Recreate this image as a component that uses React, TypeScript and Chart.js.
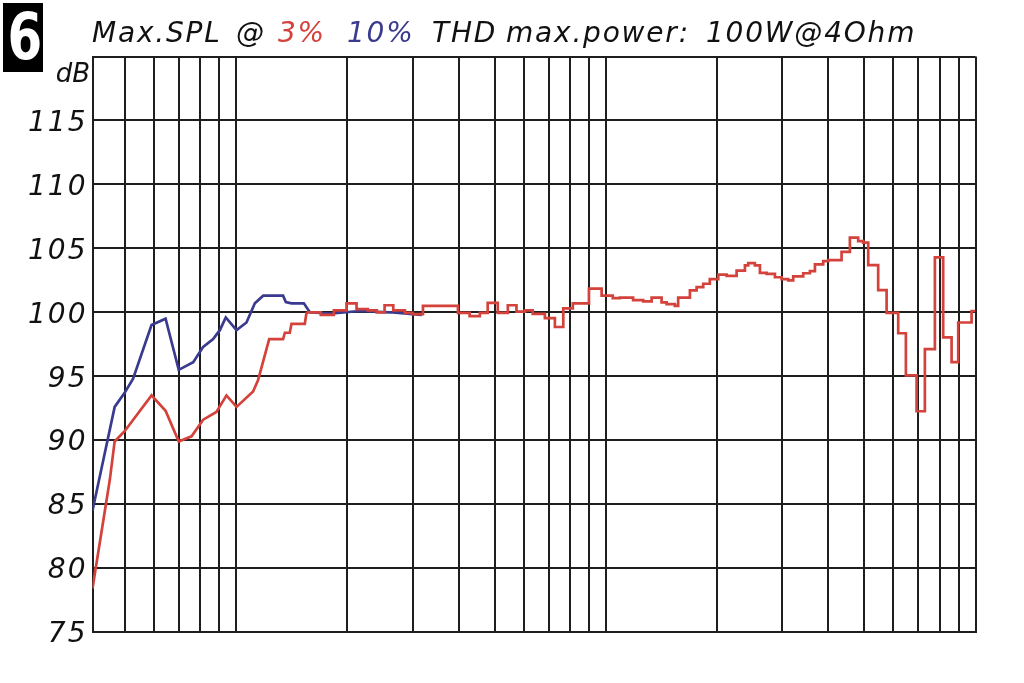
import React, { useEffect, useRef } from "react";
import { Chart, registerables } from "chart.js";

Chart.register(...registerables);

// ---- axis definition ----
const freqMin = 40.85;
const freqMax = 10000;
const splMin = 75;
const splMax = 120;
const splStep = 5;
const xGridFreqs = [
  50, 60, 70, 80, 90, 100, 200, 300, 400, 500, 600, 700, 800, 900, 1000,
  2000, 3000, 4000, 5000, 6000, 7000, 8000, 9000, 10000,
];

// ---- 10% THD (blue) ----
const blueFreq = [
  40.85, 46.9, 49.9, 52.6, 59.0, 64.4, 69.9, 76.5, 81.4, 86.6, 90.3, 93.7,
  100.2, 106.6, 112.3, 118.3, 133.9, 136.2, 141.1, 152.4, 158.2, 179, 216,
  260, 290, 318,
];
const blueSpl = [
  84.5, 92.6, 93.7, 94.8, 99.0, 99.5, 95.5, 96.1, 97.3, 97.9, 98.6, 99.6,
  98.6, 99.2, 100.7, 101.3, 101.3, 100.8, 100.7, 100.7, 100.0, 99.9, 100.1,
  100.0, 99.9, 99.8,
];

// ---- 3% THD (red), low-frequency part ----
const redLowFreq = [
  40.85, 45.5, 46.9, 49.9, 59.0, 64.4, 69.9, 75.7, 81.4, 88.4, 94.1, 100.2,
  111.1, 114.6, 122.8, 133.9, 135.4, 139.6, 141.1, 153.3, 155.0,
];
const redLowSpl = [
  78.4, 86.9, 89.9, 90.7, 93.5, 92.3, 89.9, 90.3, 91.6, 92.2, 93.5, 92.6,
  93.8, 94.7, 97.9, 97.9, 98.4, 98.4, 99.1, 99.1, 100.0,
];

// ---- 3% THD (red), stepped part (value holds from freq to next freq) ----
const redStepFreq = [
  155, 169.4, 183.7, 198.8, 211.6, 227, 240, 252, 266, 286, 300, 320, 398,
  428, 456, 479, 510, 543, 573, 604, 634, 684, 728, 767, 814, 900, 974, 1044,
  1091, 1185, 1262, 1330, 1415, 1460, 1537, 1569, 1688, 1760, 1834, 1911,
  2014, 2122, 2258, 2378, 2427, 2530, 2611, 2722, 2867, 2989, 3114, 3213,
  3419, 3565, 3678, 3872, 3995, 4342, 4573, 4815, 4968, 5126, 5454, 5748,
  6179, 6481, 6928, 7295, 7765, 8176, 8616, 8979, 9759, 10000,
];
const redStepSpl = [
  100.0, 99.8, 100.15, 100.7, 100.25, 100.15, 100.0, 100.55, 100.15, 99.95,
  99.85, 100.5, 99.95, 99.7, 99.95, 100.73, 99.95, 100.55, 100.05, 100.15,
  99.87, 99.55, 98.85, 100.3, 100.7, 101.85, 101.3, 101.1, 101.15, 100.95,
  100.85, 101.15, 100.77, 100.64, 100.5, 101.15, 101.72, 101.97, 102.23, 102.6,
  102.95, 102.85, 103.26, 103.67, 103.85, 103.67, 103.08, 103.0, 102.74, 102.6,
  102.5, 102.8, 103.05, 103.22, 103.74, 104.0, 104.08, 104.73, 105.84, 105.56,
  105.45, 103.69, 101.74, 99.96, 98.36, 95.06, 92.26, 97.12, 104.29, 98.03,
  96.1, 99.2, 100.1, 100.1,
];

const RED = "#d4423c";
const BLUE = "#3a3a8e";
const GRID = "#1e1e1e";
const TEXT = "#111111";
const FONT = "'DejaVu Sans', 'Liberation Sans', sans-serif";

const titlePieces = [
  { text: "Max.SPL", left: 92, color: TEXT },
  { text: "@", left: 236, color: TEXT },
  { text: "3%", left: 278, color: RED },
  { text: "10%", left: 347, color: BLUE },
  { text: "THD", left: 432, color: TEXT },
  { text: "max.power:", left: 506, color: TEXT },
  { text: "100W@4Ohm", left: 706, color: TEXT },
];

const toPoints = (xs: number[], ys: number[]) =>
  xs.map((x, i) => ({ x, y: ys[i] }));

export default function App() {
  const canvasRef = useRef<HTMLCanvasElement | null>(null);

  useEffect(() => {
    const canvas = canvasRef.current;
    if (!canvas) return;
    const spacingPlugin = {
      id: "letterSpacing",
      beforeDraw(chart: any) {
        chart.ctx.letterSpacing = "2px";
      },
      afterDraw(chart: any) {
        chart.ctx.letterSpacing = "0px";
      },
    };
    const chart = new Chart(canvas, {
      type: "line",
      data: {
        datasets: [
          {
            label: "3% THD",
            data: toPoints(redLowFreq, redLowSpl),
            borderColor: RED,
            backgroundColor: RED,
            borderWidth: 2.7,
            pointRadius: 0,
            tension: 0,
            order: 0,
          },
          {
            label: "3% THD (steps)",
            data: toPoints(redStepFreq, redStepSpl),
            borderColor: RED,
            backgroundColor: RED,
            borderWidth: 2.7,
            pointRadius: 0,
            stepped: true,
            order: 0,
          },
          {
            label: "10% THD",
            data: toPoints(blueFreq, blueSpl),
            borderColor: BLUE,
            backgroundColor: BLUE,
            borderWidth: 2.7,
            pointRadius: 0,
            tension: 0,
            order: 1,
          },
        ],
      },
      options: {
        responsive: false,
        animation: false,
        events: [],
        layout: { padding: { left: 0, top: 56.5, right: 48.5, bottom: 51 } },
        plugins: {
          legend: { display: false },
          title: { display: false },
          tooltip: { enabled: false },
        },
        scales: {
          x: {
            type: "logarithmic",
            min: freqMin,
            max: freqMax,
            afterBuildTicks: (s: any) => {
              s.ticks = xGridFreqs.map((v) => ({ value: v }));
            },
            afterFit: (s: any) => {
              s.height = 0;
            },
            ticks: { display: false },
            grid: { color: GRID, lineWidth: 2, drawTicks: false },
            border: { color: GRID, width: 2 },
          },
          y: {
            type: "linear",
            min: splMin,
            max: splMax,
            afterFit: (s: any) => {
              s.width = 92.5;
            },
            ticks: {
              stepSize: splStep,
              color: TEXT,
              padding: 5,
              labelOffset: 3,
              font: { family: FONT, size: 28, style: "italic" },
              callback: (v: any) => (Number(v) === splMax ? "" : String(v)),
            },
            grid: { color: GRID, lineWidth: 2, drawTicks: false },
            border: { color: GRID, width: 2 },
          },
        },
      },
      plugins: [spacingPlugin],
    } as any);
    return () => chart.destroy();
  }, []);

  return (
    <div
      style={{
        position: "fixed",
        left: 0,
        top: 0,
        width: 1024,
        height: 683,
        background: "#ffffff",
        overflow: "hidden",
      }}
    >
      <canvas
        ref={canvasRef}
        width={1024}
        height={683}
        style={{ position: "absolute", left: 0, top: 0, width: 1024, height: 683 }}
      />
      <div
        style={{
          position: "absolute",
          left: 3,
          top: 3,
          width: 40,
          height: 69,
          background: "#000",
        }}
      >
        <div
          style={{
            width: 40,
            height: 69,
            color: "#fff",
            fontFamily: "'DejaVu Sans', sans-serif",
            fontWeight: "bold",
            fontSize: 64,
            lineHeight: "69px",
            textAlign: "center",
            transform: "scaleX(0.78)",
          }}
        >
          6
        </div>
      </div>
      {titlePieces.map((p) => (
        <span
          key={p.text}
          style={{
            position: "absolute",
            left: p.left,
            top: 16,
            lineHeight: "34px",
            fontSize: 28,
            fontStyle: "italic",
            fontFamily: FONT,
            letterSpacing: "1.8px",
            color: p.color,
            whiteSpace: "pre",
          }}
        >
          {p.text}
        </span>
      ))}
      <span
        style={{
          position: "absolute",
          right: 1024 - 90,
          top: 60,
          lineHeight: "26px",
          fontSize: 26,
          fontStyle: "italic",
          fontFamily: FONT,
          color: TEXT,
        }}
      >
        dB
      </span>
    </div>
  );
}
